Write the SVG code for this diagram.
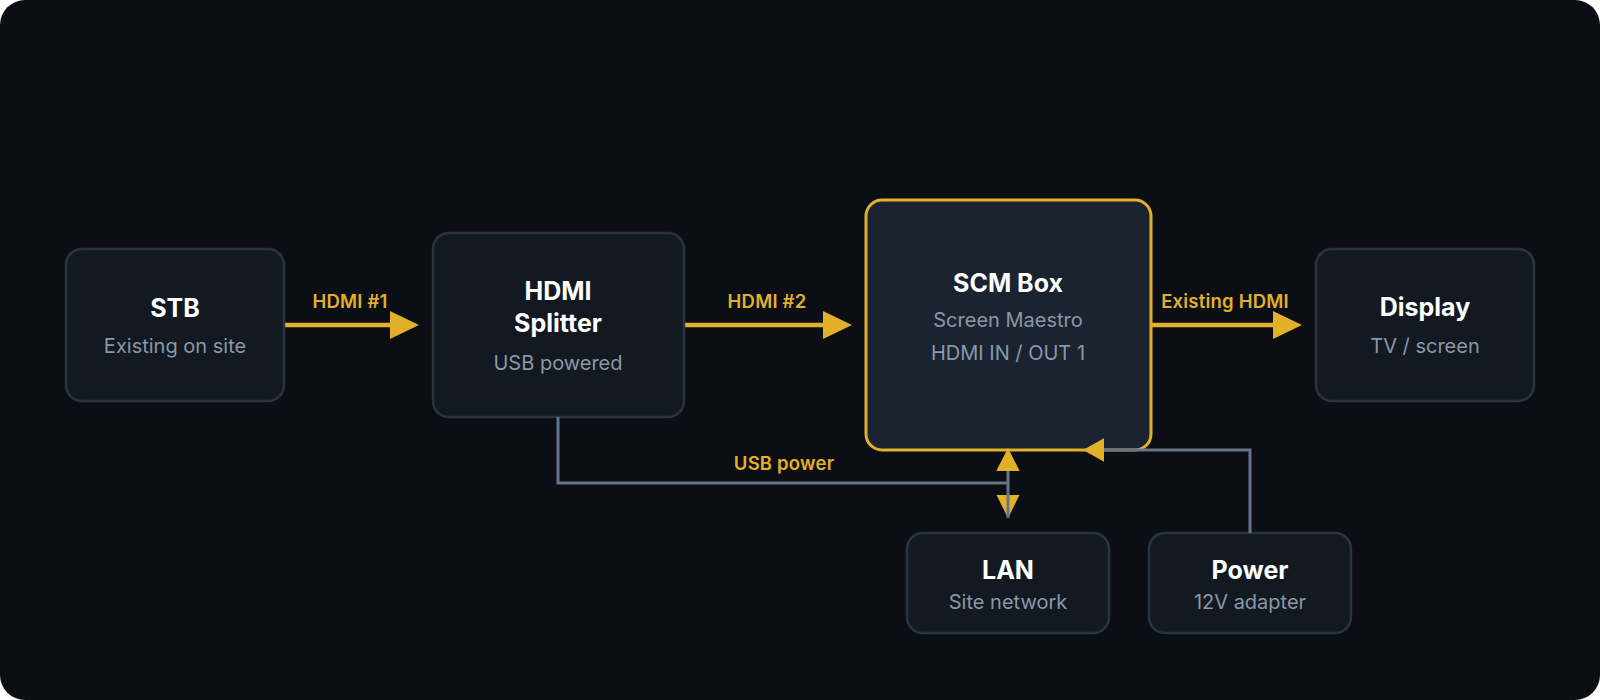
<svg xmlns="http://www.w3.org/2000/svg" width="1600" height="700" viewBox="0 0 1600 700">
<style>
.box{fill:#121920;stroke:#2a3441;stroke-width:2.5}
.main{fill:#1b2331;stroke:#e3b02a;stroke-width:3}
.t{font-family:Inter,"Liberation Sans",sans-serif;font-weight:700;font-size:25px;fill:#ffffff;text-anchor:middle}
.s{font-family:Inter,"Liberation Sans",sans-serif;font-weight:400;font-size:20px;fill:#8a97a9;text-anchor:middle}
.l{font-family:Inter,"Liberation Sans",sans-serif;font-weight:600;font-size:18.5px;letter-spacing:0.2px;fill:#e3b02a;text-anchor:middle}
.hd{stroke:#e3b02a;stroke-width:4.5;fill:none}
.gr{stroke:#64748b;stroke-width:3;fill:none}
.ah{fill:#e3b02a}
</style>
<rect x="0" y="0" width="1600" height="700" fill="#ffffff"/>
<rect x="0" y="0" width="1600" height="700" rx="25" fill="#0b0e15"/>
<g id="connectors">
<path class="hd" d="M284 325H392"/>
<polygon class="ah" points="390,311 419,325 390,339"/>
<text class="l" x="350" y="308">HDMI #1</text>
<path class="hd" d="M684 325H825"/>
<polygon class="ah" points="823,311 852,325 823,339"/>
<text class="l" x="767" y="308">HDMI #2</text>
<path class="hd" d="M1151 325H1275"/>
<polygon class="ah" points="1273,311 1302,325 1273,339"/>
<text class="l" x="1225" y="308">Existing HDMI</text>
</g>
<g id="stb"><rect class="box" x="66" y="249" width="218" height="152" rx="16"/><text class="t" x="175" y="317">STB</text><text class="s" x="175" y="353">Existing on site</text></g>
<g id="splitter"><rect class="box" x="433" y="233" width="251" height="184" rx="16"/><text class="t" x="558" y="300">HDMI</text><text class="t" x="558" y="332">Splitter</text><text class="s" x="558" y="370">USB powered</text></g>
<g id="scm"><rect class="main" x="866" y="200" width="285" height="250" rx="16"/><text class="t" x="1008" y="292">SCM Box</text><text class="s" x="1008" y="327">Screen Maestro</text><text class="s" x="1008" y="360">HDMI IN / OUT 1</text></g>
<g id="display"><rect class="box" x="1316" y="249" width="218" height="152" rx="16"/><text class="t" x="1425" y="316">Display</text><text class="s" x="1425" y="353">TV / screen</text></g>
<g id="lan"><rect class="box" x="907" y="533" width="202" height="100" rx="16"/><text class="t" x="1008" y="579">LAN</text><text class="s" x="1008" y="609">Site network</text></g>
<g id="power"><rect class="box" x="1149" y="533" width="202" height="100" rx="16"/><text class="t" x="1250" y="579">Power</text><text class="s" x="1250" y="609">12V adapter</text></g>
<g id="connectors2">
<path class="gr" d="M558 417V483H1008"/>
<text class="l" x="784" y="470">USB power</text>
<polygon class="ah" points="996.5,495 1019.5,495 1008,518"/>
<path class="gr" d="M1008 470V518"/>
<polygon class="ah" points="1008,448 1019.7,471 996.3,471"/>
<path class="gr" d="M1250 533V450H1102"/>
<polygon class="ah" points="1104,438.3 1083,450 1104,461.7"/>
</g>
</svg>
